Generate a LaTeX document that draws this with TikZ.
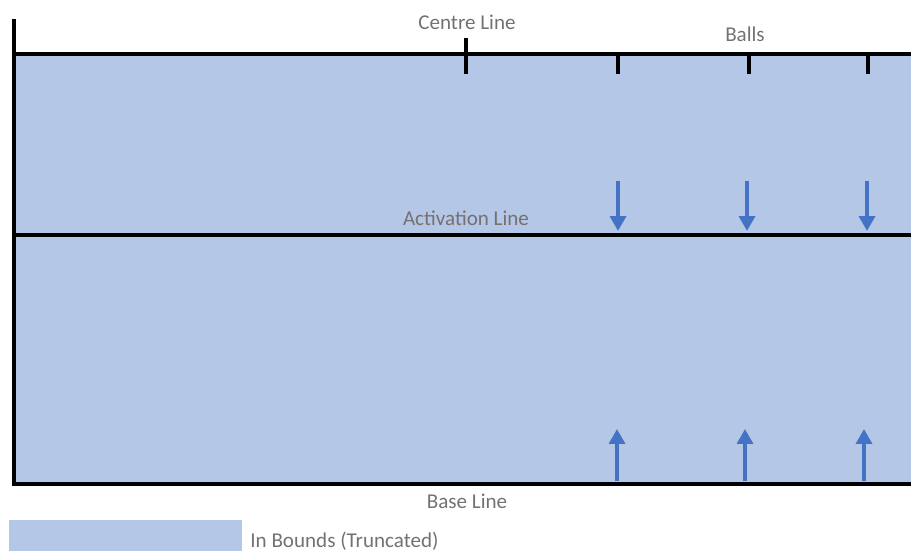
\documentclass[tikz,border=0pt]{standalone}
\usepackage{fontspec}
\setmainfont{Carlito}
\usepackage{tikz}
\usepackage{xcolor}
\usetikzlibrary{arrows.meta,positioning}

\definecolor{boundsblue}{HTML}{B4C7E7}
\definecolor{arrowblue}{HTML}{4472C4}
\definecolor{labelgrey}{HTML}{767171}

\tikzset{
  fieldline/.style={line width=2.7pt,black},
  lbl/.style={text=labelgrey,font=\fontsize{12}{14}\selectfont,inner sep=0pt},
  ballarrow/.style={arrowblue,line width=2.8pt,-{Triangle[width=9pt,length=8.5pt]}}
}

\begin{document}
\begin{tikzpicture}[x=0.02cm,y=-0.02cm,>=Latex]
  \useasboundingbox (0,0) rectangle (911,551);
  % in bounds area
  \fill[boundsblue] (14,54) rectangle (911,484);
  % field lines
  \draw[fieldline] (14,19) -- (14,486);
  \draw[fieldline] (12,54) -- (911,54);
  \draw[fieldline] (12,235) -- (911,235);
  \draw[fieldline] (12,484) -- (911,484);
  \draw[fieldline] (466,38) -- (466,74);
  \foreach \x in {618,749,868} \draw[fieldline] (\x,54) -- (\x,74);
  % labels
  \node[lbl] (centre) at (467,22) {Centre Line};
  \node[lbl] (balls) at (745,34) {Balls};
  \node[lbl] (activation) at (466,218) {Activation Line};
  \node[lbl] (base) at (467,501) {Base Line};
  % arrows to activation line
  \foreach \i/\x in {1/618,2/747,3/867} {
    \coordinate (dtop\i) at (\x,181);
    \coordinate (dtip\i) at (\x,231);
    \draw[ballarrow] (dtop\i) -- (dtip\i);
  }
  % arrows from base line
  \foreach \i/\x in {1/617,2/745,3/864} {
    \coordinate (ubot\i) at (\x,481);
    \coordinate (utip\i) at (\x,429);
    \draw[ballarrow] (ubot\i) -- (utip\i);
  }
  % legend
  \fill[boundsblue] (9,520) rectangle (242,551);
  \node[lbl,anchor=west] (legend) at (250,541) {In Bounds (Truncated)};
\end{tikzpicture}
\end{document}
